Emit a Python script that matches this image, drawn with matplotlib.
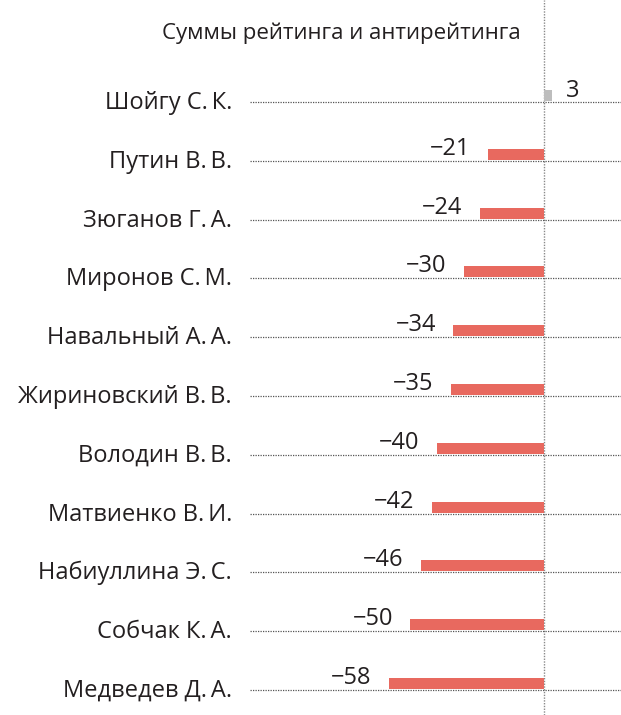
import matplotlib.pyplot as plt

names = ['Шойгу С.\u2009К.', 'Путин В.\u2009В.', 'Зюганов Г.\u2009А.', 'Миронов С.\u2009М.',
         'Навальный А.\u2009А.', 'Жириновский В.\u2009В.', 'Володин В.\u2009В.',
         'Матвиенко В.\u2009И.', 'Набиуллина Э.\u2009С.', 'Собчак К.\u2009А.', 'Медведев Д.\u2009А.']
values = [3, -21, -24, -30, -34, -35, -40, -42, -46, -50, -58]

W, H = 621, 715
zero_px = 544
px_per_unit = 2.67
row0, step = 102, 58.8
bar_h = 11

def px2v(x):
    return (x - zero_px) / px_per_unit

plt.rcParams['font.family'] = ['Open Sans', 'DejaVu Sans']
fig = plt.figure(figsize=(W / 100, H / 100), dpi=100)
ax = fig.add_axes([0, 0, 1, 1])
ax.set_xlim(px2v(0), px2v(W))
ax.set_ylim(H, 0)
ax.axis('off')

txt = '#231f20'
dot = dict(color='#555555', linewidth=0.9, linestyle=(0, (1, 1)))

# нулевая линия через всю высоту
ax.axvline(0, color='#8a8a8a', linewidth=1.0, linestyle=(0, (1, 1)), zorder=1)

for i, (name, v) in enumerate(zip(names, values)):
    y = row0 + step * i
    ax.plot([px2v(250), px2v(W)], [y, y], **dot, zorder=1)
    color = '#e8695f' if v < 0 else '#bdbdbd'
    # полоса стоит на пунктирной линии
    ax.barh(y - 1 - bar_h, v, height=bar_h, align='edge', color=color, zorder=2)
    ax.text(px2v(232), y + 7, name, ha='right', va='baseline', fontsize=17, color=txt)
    if v < 0:
        ax.text(v - 6.5, y - 6, '−' + str(abs(v)), ha='right', va='baseline',
                fontsize=17, color=txt)
    else:
        ax.text(px2v(566), y - 5, str(v), ha='left', va='baseline',
                fontsize=17, color=txt)

ax.text(px2v(162), 39, 'Суммы рейтинга и антирейтинга', ha='left', va='baseline',
        fontsize=16, color=txt)

fig.savefig('out.png', dpi=100)
